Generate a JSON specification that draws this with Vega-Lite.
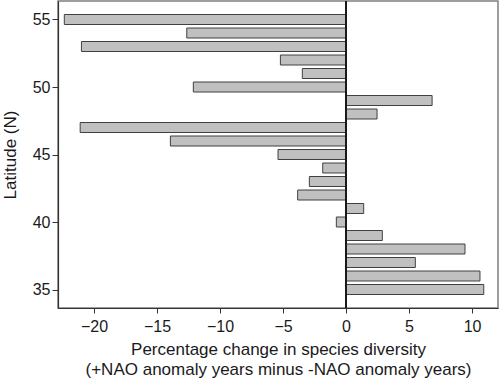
{
  "$schema": "https://vega.github.io/schema/vega-lite/v6.json",
  "autosize": "none",
  "width": 440,
  "height": 307,
  "padding": {"left": 58, "top": 1, "right": 2, "bottom": 75},
  "background": "white",
  "config": {
    "font": "Liberation Sans",
    "view": {"stroke": "#7f7f7f", "strokeWidth": 1.5},
    "axis": {
      "grid": false,
      "domainColor": "#333333",
      "domainWidth": 1.2,
      "tickColor": "#333333",
      "tickSize": 6,
      "labelFontSize": 16,
      "labelColor": "#1a1a1a",
      "titleFontSize": 17,
      "titleFontWeight": "normal",
      "titleColor": "#1a1a1a"
    }
  },
  "data": {
    "values": [
      {"lat": 55, "change": -22.36},
      {"lat": 54, "change": -12.64},
      {"lat": 53, "change": -21.0},
      {"lat": 52, "change": -5.21},
      {"lat": 51, "change": -3.47},
      {"lat": 50, "change": -12.12},
      {"lat": 49, "change": 6.83},
      {"lat": 48, "change": 2.46},
      {"lat": 47, "change": -21.1},
      {"lat": 46, "change": -13.94},
      {"lat": 45, "change": -5.4},
      {"lat": 44, "change": -1.85},
      {"lat": 43, "change": -2.91},
      {"lat": 42, "change": -3.84},
      {"lat": 41, "change": 1.4},
      {"lat": 40, "change": -0.77},
      {"lat": 39, "change": 2.88},
      {"lat": 38, "change": 9.44},
      {"lat": 37, "change": 5.5},
      {"lat": 36, "change": 10.63},
      {"lat": 35, "change": 10.93}
    ]
  },
  "layer": [
    {
      "mark": {"type": "bar", "orient": "horizontal", "size": 10, "fill": "#c0c0c0", "stroke": "#404040", "strokeWidth": 1},
      "encoding": {
        "y": {
          "field": "lat", "type": "quantitative",
          "scale": {"domain": [34, 56], "nice": false, "zero": false},
          "axis": {"values": [35, 40, 45, 50, 55], "title": "Latitude (N)", "titlePadding": 13, "labelPadding": 2}
        },
        "x": {
          "field": "change", "type": "quantitative", "stack": null,
          "scale": {"domain": [-22.86, 12.06], "nice": false, "zero": false},
          "axis": {
            "values": [-20, -15, -10, -5, 0, 5, 10],
            "title": ["Percentage change in species diversity", "(+NAO anomaly years minus -NAO anomaly years)"],
            "titlePadding": 7,
            "titleLineHeight": 20,
            "tickSize": 5,
            "labelPadding": 5
          }
        }
      }
    },
    {
      "mark": {"type": "rule", "color": "#1a1a1a", "strokeWidth": 1.2},
      "encoding": {"x": {"datum": 0, "type": "quantitative"}}
    }
  ]
}
